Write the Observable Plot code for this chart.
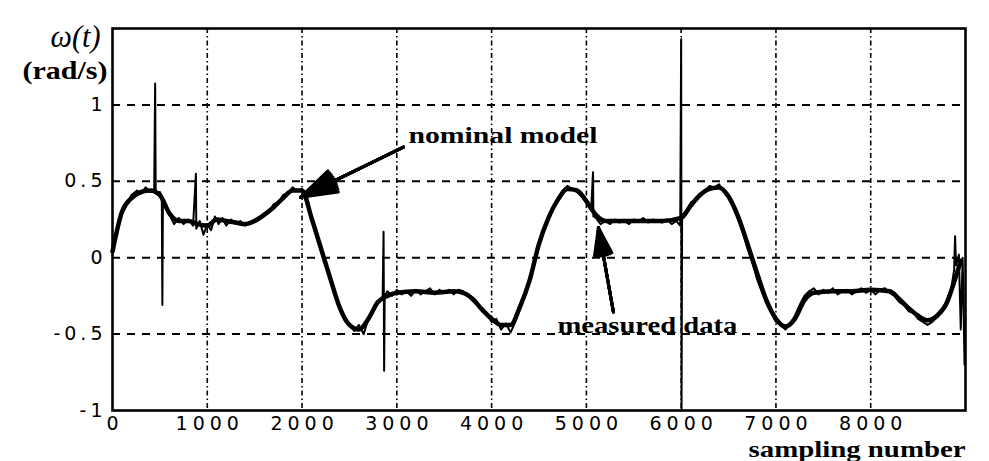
<!DOCTYPE html>
<html><head><meta charset="utf-8">
<script src="https://cdn.jsdelivr.net/npm/d3@7"></script>
<script src="https://cdn.jsdelivr.net/npm/@observablehq/plot@0.6"></script>
<style>body{margin:0;background:#fff}</style>
</head><body><div id="chart"></div>
<script>
// ---- data ----
const xTicks = [0, 1000, 2000, 3000, 4000, 5000, 6000, 7000, 8000];
const yTicks = [-1, -0.5, 0, 0.5, 1];
const gridX = [1000, 2000, 3000, 4000, 5000, 6000, 7000, 8000];
const gridY = [-0.5, 0, 0.5, 1];

const nominalT = [0,100,200,300,400,500,600,700,800,900,1000,1100,1200,1300,1400,1500,1600,1700,1800,1900,2000,
  2100,2200,2300,2400,2500,2600,2700,2800,2900,3000,
  3200,3400,3600,3700,3800,3900,
  4000,4100,4200,4300,4400,4500,4600,4700,4800,4900,5000,5100,5200,
  5500,5800,
  6000,6100,6200,6300,6400,6500,6600,6700,6800,6900,7000,7100,7200,7300,7400,
  7600,7800,8000,8200,
  8300,8400,8500,8600,8700,8800,8900,8950];
const nominalW = [0.04,0.30,0.39,0.43,0.44,0.41,0.29,0.24,0.24,0.22,0.21,0.25,0.24,0.23,0.22,0.24,0.28,0.33,0.39,0.44,0.44,
  0.26,0.06,-0.14,-0.33,-0.44,-0.47,-0.40,-0.29,-0.25,-0.23,
  -0.22,-0.23,-0.22,-0.23,-0.27,-0.34,
  -0.40,-0.44,-0.44,-0.32,-0.15,0.09,0.26,0.38,0.45,0.44,0.37,0.28,0.24,
  0.24,0.24,
  0.26,0.34,0.41,0.45,0.46,0.40,0.27,0.09,-0.10,-0.28,-0.40,-0.45,-0.40,-0.28,-0.23,
  -0.22,-0.22,-0.21,-0.22,
  -0.27,-0.33,-0.38,-0.41,-0.38,-0.30,-0.12,-0.02];

const measuredT = [
  0,40,80,120,160,200,260,300,350,400,
  440,450,456,500,520,526,532,560,600,650,
  700,750,800,850,880,884,920,960,1000,1040,
  1080,1120,1160,1200,1250,1300,1350,1400,1450,1500,
  1550,1600,1650,1700,1750,1800,1850,1900,1950,2000,
  2050,2100,2150,2200,2250,2300,2350,2400,2450,2500,
  2550,2600,2650,2700,2750,2800,2850,2860,2866,2872,
  2900,2950,3000,3050,3100,3150,3200,3250,3300,3350,
  3400,3450,3500,3550,3600,3650,3700,3750,3800,3850,
  3900,3950,4000,4050,4100,4150,4200,4250,4300,4350,
  4400,4450,4500,4550,4600,4650,4700,4750,4800,4850,
  4900,4950,5000,5050,5070,5074,5100,5150,5200,5250,
  5300,5350,5400,5450,5500,5550,5600,5650,5700,5750,
  5800,5850,5900,5950,5990,6000,6004,6010,6050,6100,
  6150,6200,6250,6300,6350,6400,6450,6500,6550,6600,
  6650,6700,6750,6800,6850,6900,6950,7000,7050,7100,
  7150,7200,7250,7300,7350,7400,7450,7500,7550,7600,
  7650,7700,7750,7800,7850,7900,7950,8000,8050,8100,
  8150,8200,8250,8300,8350,8400,8450,8500,8550,8600,
  8650,8700,8750,8800,8850,8880,8890,8900,8930,8950,
  8970,8990];
const measuredW = [
  0.06,0.16,0.26,0.31,0.36,0.41,0.44,0.42,0.46,0.43,
  0.45,1.14,0.42,0.43,0.40,-0.31,0.38,0.33,0.28,0.22,
  0.26,0.22,0.25,0.21,0.55,0.19,0.24,0.15,0.22,0.18,
  0.27,0.22,0.26,0.21,0.25,0.22,0.24,0.21,0.23,0.25,
  0.26,0.29,0.30,0.35,0.36,0.41,0.42,0.46,0.44,0.45,
  0.35,0.27,0.15,0.07,-0.05,-0.13,-0.24,-0.32,-0.41,-0.43,
  -0.48,-0.44,-0.50,-0.40,-0.34,-0.30,-0.27,0.17,-0.74,-0.25,
  -0.22,-0.25,-0.21,-0.24,-0.22,-0.25,-0.21,-0.24,-0.22,-0.20,
  -0.24,-0.21,-0.23,-0.21,-0.24,-0.21,-0.22,-0.25,-0.28,-0.31,
  -0.35,-0.37,-0.42,-0.40,-0.47,-0.43,-0.49,-0.42,-0.33,-0.24,
  -0.15,-0.03,0.10,0.17,0.27,0.33,0.39,0.44,0.47,0.45,
  0.43,0.40,0.36,0.31,0.56,0.27,0.26,0.22,0.24,0.22,
  0.25,0.23,0.24,0.22,0.25,0.24,0.26,0.23,0.25,0.24,
  0.23,0.25,0.22,0.24,0.21,1.43,-1.0,0.28,0.30,0.36,
  0.38,0.42,0.44,0.47,0.46,0.48,0.43,0.39,0.33,0.25,
  0.17,0.06,-0.03,-0.14,-0.22,-0.30,-0.36,-0.42,-0.44,-0.47,
  -0.43,-0.38,-0.31,-0.25,-0.22,-0.20,-0.24,-0.21,-0.23,-0.20,
  -0.24,-0.22,-0.21,-0.24,-0.22,-0.20,-0.23,-0.21,-0.24,-0.21,
  -0.20,-0.23,-0.25,-0.29,-0.31,-0.35,-0.36,-0.40,-0.42,-0.44,
  -0.42,-0.39,-0.35,-0.28,-0.20,-0.08,0.14,-0.05,0.02,-0.47,
  0.0,-0.7];

const labelText = ["nominal model", "measured data"];
const labelT = [3122, 4694];
const labelW = [0.80, -0.44];
const arrowFromT = [3070, 5285];
const arrowFromW = [0.724, -0.355];
const arrowToT = [1983, 5127];
const arrowToW = [0.395, 0.197];

const yLabelTop = "ω(t)";
const yLabelUnit = "(rad/s)";
const xLabel = "sampling number";

// ---- tables ----
const nominal = nominalT.map((t, i) => ({t, w: nominalW[i]}));
const measured = measuredT.map((t, i) => ({t, w: measuredW[i]}));
const labels = labelText.map((s, i) => ({s, t: labelT[i], w: labelW[i]}));
const arrows = arrowFromT.map((t, i) => ({x1: t, y1: arrowFromW[i], x2: arrowToT[i], y2: arrowToW[i]}));

const serif = "Liberation Serif";
const headAngles = [36, 28, 20, 12, 5];

const chart = Plot.plot({
  width: 989, height: 461,
  marginLeft: 112, marginRight: 24, marginTop: 28, marginBottom: 51,
  style: {fontFamily: "DejaVu Sans", fontSize: "19px", background: "#fff", color: "#000"},
  x: {domain: [0, 9000], axis: null},
  y: {domain: [-1, 1.5], axis: null},
  marks: [
    Plot.ruleY(gridY, {stroke: "#000", strokeWidth: 2, strokeDasharray: "8,7"}),
    Plot.ruleX(gridX, {stroke: "#000", strokeWidth: 1.6, strokeDasharray: "5,3,1.5,3"}),
    Plot.line(nominal, {x: "t", y: "w", stroke: "#000", strokeWidth: 4.5, curve: "monotone-x"}),
    Plot.line(measured, {x: "t", y: "w", stroke: "#000", strokeWidth: 2}),
    Plot.frame({stroke: "#000", strokeWidth: 2.6}),
    Plot.axisX({ticks: xTicks, tickSize: 0, tickPadding: 6, tickFormat: d => String(d), label: null, fontSize: 19, fontFamily: "DejaVu Sans"}),
    Plot.axisY({ticks: yTicks, tickSize: 0, tickPadding: 10, tickFormat: d => String(d), label: null, fontSize: 19, fontFamily: "DejaVu Sans"}),
    ...headAngles.map(a => Plot.arrow(arrows, {x1: "x1", y1: "y1", x2: "x2", y2: "y2", stroke: "#000", strokeWidth: 3, headAngle: a, headLength: 40})),
    Plot.text(labels, {x: "t", y: "w", text: "s", textAnchor: "start", lineAnchor: "middle", fontFamily: serif, fontWeight: "bold", fontSize: 24, fill: "#000"}),
    Plot.text([yLabelTop], {frameAnchor: "top-left", text: d => d, textAnchor: "start", lineAnchor: "middle", dx: -62, dy: 8, fontFamily: serif, fontStyle: "italic", fontSize: 32, fill: "#000"}),
    Plot.text([yLabelUnit], {frameAnchor: "top-left", text: d => d, textAnchor: "start", lineAnchor: "middle", dx: -90, dy: 42, fontFamily: serif, fontWeight: "bold", fontSize: 25, fill: "#000"}),
    Plot.text([xLabel], {frameAnchor: "bottom-right", text: d => d, textAnchor: "start", lineAnchor: "middle", dx: -217, dy: 39, fontFamily: serif, fontWeight: "bold", fontSize: 24, fill: "#000"})
  ]
});

// styling: stretch the scanned-looking texts to the reference widths
const widths = {"nominal model": 189, "measured data": 180, "sampling number": 217, "(rad/s)": 85, "ω(t)": 50};
d3.select(chart).selectAll("text").each(function() {
  const w = widths[this.textContent];
  if (w) d3.select(this).attr("textLength", w).attr("lengthAdjust", "spacingAndGlyphs");
});
d3.select(chart).selectAll('g[aria-label="x-axis tick label"] text').attr("letter-spacing", "5px").attr("dx", 2.5);
d3.select(chart).selectAll('g[aria-label="y-axis tick label"] text').attr("letter-spacing", "4px").attr("dx", 4);

document.getElementById("chart").appendChild(chart);
</script>
</body></html>
